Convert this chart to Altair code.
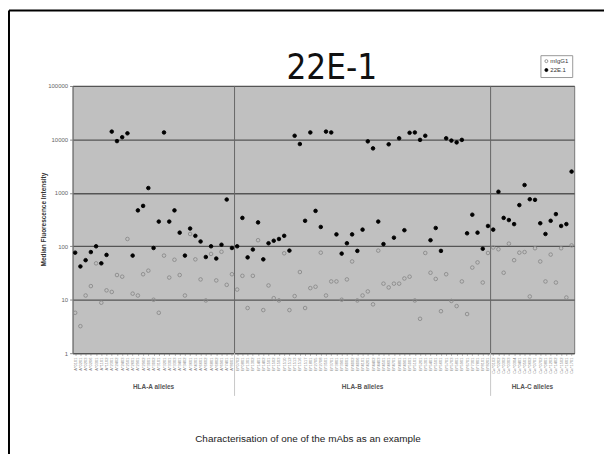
import altair as alt
import pandas as pd

TITLE = "22E-1"
CAPTION = "Characterisation of one of the mAbs as an example"
Y_TITLE = "Median Fluorescence Intensity"
SERIES = ["mIgG1", "22E.1"]
GROUP_NAMES = ["HLA-A alleles", "HLA-B alleles", "HLA-C alleles"]
Y_TICKS = [1, 10, 100, 1000, 10000, 100000]

a_alleles = ["A*0101", "A*0201", "A*0203", "A*0206", "A*0301", "A*1101", "A*1102", "A*2301",
             "A*2402", "A*2403", "A*2501", "A*2601", "A*2901", "A*2902", "A*3001", "A*3002",
             "A*3101", "A*3201", "A*3301", "A*3303", "A*3401", "A*3402", "A*3601", "A*4301",
             "A*6601", "A*6602", "A*6801", "A*6802", "A*6901", "A*7401", "A*8001"]
b_alleles = ["B*0702", "B*0801", "B*1301", "B*1302", "B*1401", "B*1402", "B*1501", "B*1502",
             "B*1503", "B*1510", "B*1512", "B*1513", "B*1516", "B*1517", "B*1801", "B*2705",
             "B*2708", "B*3501", "B*3701", "B*3801", "B*3901", "B*4001", "B*4002", "B*4006",
             "B*4101", "B*4201", "B*4402", "B*4403", "B*4501", "B*4601", "B*4701", "B*4801",
             "B*4901", "B*5001", "B*5101", "B*5201", "B*5301", "B*5401", "B*5501", "B*5601",
             "B*5701", "B*5703", "B*5801", "B*5901", "B*6701", "B*7301", "B*7801", "B*8101",
             "B*8201"]
c_alleles = ["Cw*0102", "Cw*0202", "Cw*0302", "Cw*0303", "Cw*0304", "Cw*0401", "Cw*0501",
             "Cw*0602", "Cw*0701", "Cw*0702", "Cw*0801", "Cw*1203", "Cw*1402", "Cw*1502",
             "Cw*1601", "Cw*1701"]

a_22e1 = [76, 42, 55, 78, 100, 48, 69, 14000, 9300, 11000, 13000, 67, 470, 570, 1230, 93,
          290, 13500, 290, 470, 180, 67, 215, 157, 123, 63, 100, 59, 107, 750, 93]
a_migg1 = [5.7, 3.2, 12, 18, 48, 8.8, 15, 14, 29, 27, 137, 13, 12, 30, 35, 10,
           5.7, 67, 26, 56, 29, 12, 170, 57, 24, 9.7, 72, 23, 79, 19, 30]
b_22e1 = [100, 340, 62, 87, 280, 57, 114, 127, 137, 157, 83, 11700, 8200, 300, 13500, 460,
          230, 14000, 13500, 167, 73, 114, 167, 82, 205, 9200, 6800, 290, 110, 8100, 145, 10500,
          200, 13300, 13500, 9800, 11700, 130, 220, 82, 10500, 9500, 8800, 9800, 175, 390, 180,
          90, 240]
b_migg1 = [15.5, 28, 7, 28, 130, 6.4, 18.5, 10.7, 9.7, 74, 6.4, 11.7, 33, 7, 16.5, 17.5,
           76, 12, 22, 22, 10, 24, 52, 9.7, 12, 14.3, 8.2, 83, 20, 17, 20, 20,
           25, 27, 9.7, 4.4, 75, 32, 24.5, 6.1, 30, 9.5, 7.6, 22, 5.4, 40, 50,
           21, 75]
c_22e1 = [205, 1050, 340, 310, 260, 590, 1400, 760, 740, 270, 170, 300, 400, 240, 260, 2500]
c_migg1 = [95, 88, 32, 112, 55, 76, 78, 11.5, 92, 52, 22, 70, 21, 92, 11, 104]

groups = [(GROUP_NAMES[0], a_alleles, a_migg1, a_22e1),
          (GROUP_NAMES[1], b_alleles, b_migg1, b_22e1),
          (GROUP_NAMES[2], c_alleles, c_migg1, c_22e1)]

rows = []
all_alleles = []
for gname, alle, mig, e in groups:
    all_alleles += alle
for s_idx, sname in enumerate(SERIES):
    for gname, alle, mig, e in groups:
        vals = mig if s_idx == 0 else e
        for al, v in zip(alle, vals):
            rows.append({"allele": al, "group": gname, "series": sname, "value": v})
df = pd.DataFrame(rows)

# group boundaries / centres in category units
bounds, centres = [], []
start = 0
for gname, alle, mig, e in groups:
    end = start + len(alle)
    centres.append({"group": gname, "pos": (start + end) / 2})
    bounds.append({"pos": end})
    start = end
n_total = start
bounds_df = pd.DataFrame(bounds[:-1])
centres_df = pd.DataFrame(centres)

W, H = 505, 269

points = alt.Chart(df).mark_point(shape="circle", size=13, strokeWidth=0.9, filled=True, opacity=1).encode(
    x=alt.X("allele:N", sort=all_alleles, title=None,
            axis=alt.Axis(labelAngle=-90, labelFontSize=4, labelColor="#8a8a8a", labelOverlap=False,
                          labelPadding=2, tickSize=2, tickColor="#999", domainColor="#555",
                          labelFont="Liberation Sans")),
    y=alt.Y("value:Q", title=Y_TITLE,
            scale=alt.Scale(type="log", domain=[1, 100000], nice=False),
            axis=alt.Axis(values=Y_TICKS, format="d", labelFontSize=6, labelColor="#666",
                          labelFont="Liberation Sans", gridColor="#555", gridWidth=1.3,
                          tickSize=3, tickColor="#888", domainColor="#777", labelPadding=2,
                          titleFontSize=6.5, titleFont="Liberation Sans", titleFontWeight="bold",
                          titleColor="#333", titleX=-26, titleY=134, titleAngle=-90)),
    stroke=alt.Stroke("series:N", scale=alt.Scale(domain=SERIES, range=["#8a8a8a", "#000000"]),
                      legend=alt.Legend(title=None, orient="none", legendX=471, legendY=-31,
                                        strokeColor="#999", fillColor="#ffffff", padding=3,
                                        labelFontSize=6, labelFont="Liberation Sans",
                                        labelColor="#333", symbolSize=9, rowPadding=1,
                                        labelOffset=1, symbolStrokeWidth=0.9)),
    fill=alt.Fill("series:N", scale=alt.Scale(domain=SERIES, range=["rgba(0,0,0,0)", "#000000"]),
                  legend=alt.Legend(title=None, orient="none", legendX=471, legendY=-31,
                                    strokeColor="#999", fillColor="#ffffff", padding=3,
                                    labelFontSize=6, labelFont="Liberation Sans",
                                    labelColor="#333", symbolSize=9, rowPadding=1,
                                    labelOffset=1, symbolStrokeWidth=0.9)),
)

xq = alt.X("pos:Q", scale=alt.Scale(domain=[0, n_total], nice=False, zero=False), axis=None)

sep_in = alt.Chart(bounds_df).mark_rule(color="#666", strokeWidth=1).encode(
    x=xq, y=alt.value(0), y2=alt.value(H))
sep_out = alt.Chart(bounds_df).mark_rule(color="#c8c8c8", strokeWidth=1).encode(
    x=xq, y=alt.value(H), y2=alt.value(H + 43))
group_text = alt.Chart(centres_df).mark_text(fontSize=6.5, font="Liberation Sans", fontWeight="bold",
                                             color="#555", baseline="middle").encode(
    x=xq, y=alt.value(H + 34), text="group:N")

title_df = pd.DataFrame({"t": [TITLE]})
title_txt = alt.Chart(title_df).mark_text(fontSize=35, font="Liberation Sans Narrow, DejaVu Sans Condensed, sans-serif",
                                          color="#111", baseline="middle").encode(
    x=alt.value(261), y=alt.value(-18), text="t:N")
cap_df = pd.DataFrame({"t": [CAPTION]})
cap_txt = alt.Chart(cap_df).mark_text(fontSize=10, font="Liberation Sans", color="#222",
                                      baseline="middle").encode(
    x=alt.value(237), y=alt.value(355), text="t:N")

frame_top = alt.Chart(title_df).mark_rule(color="#000", strokeWidth=2).encode(
    x=alt.value(-64), x2=alt.value(540), y=alt.value(-76))
frame_left = alt.Chart(title_df).mark_rule(color="#000", strokeWidth=2).encode(
    x=alt.value(-64), y=alt.value(-76), y2=alt.value(372))

chart = alt.layer(sep_in, points, sep_out, group_text, title_txt, cap_txt, frame_top, frame_left).resolve_scale(
    x="independent"
).properties(
    width=W, height=H,
    padding={"left": 65, "top": 77, "right": 30, "bottom": 100},
    autosize=alt.AutoSizeParams(type="none"),
).configure_view(fill="#c0c0c0", stroke="#777", strokeWidth=1)

chart.save("out.html", embed_options={"renderer": "svg", "actions": False})
